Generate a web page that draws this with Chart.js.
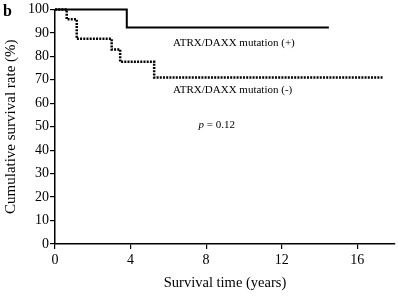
<!DOCTYPE html>
<html>
<head>
<meta charset="utf-8">
<script src="https://cdn.jsdelivr.net/npm/chart.js@4/dist/chart.umd.min.js"></script>
<style>
  html, body { margin: 0; padding: 0; background: #fff; }
  #wrap { width: 398px; height: 296px; position: relative; }
</style>
</head>
<body>
<div id="wrap"><canvas id="km"></canvas></div>
<script>
// Kaplan-Meier steps (time in years, survival %)
const posTimes = [0, 3.8, 14.5];
const posSurv = [100, 92.3, 92.3];
const negTimes = [0, 0.62, 1.15, 3.0, 3.45, 5.25, 17.4];
const negSurv = [100, 95.8, 87.5, 82.9, 77.7, 71.0, 71.0];

const xTicks = [0, 4, 8, 12, 16];
const yTicks = [0, 10, 20, 30, 40, 50, 60, 70, 80, 90, 100];

const SERIF = '"Liberation Serif", "Times New Roman", serif';

function toPoints(xs, ys) {
    return xs.map((x, i) => ({ x: x, y: ys[i] }));
}

// text labels placed in data coordinates
const notes = [
    { text: 'ATRX/DAXX mutation (+)', x: 6.25, y: 85.5 },
    { text: 'ATRX/DAXX mutation (-)', x: 6.25, y: 65.4 },
];

const notePlugin = {
    id: 'notes',
    afterDraw(chart) {
        const ctx = chart.ctx;
        const xs = chart.scales.x, ys = chart.scales.y;
        ctx.save();
        ctx.fillStyle = '#000';
        ctx.textBaseline = 'middle';
        ctx.font = '11px ' + SERIF;
        notes.forEach(n => {
            ctx.fillText(n.text, xs.getPixelForValue(n.x), ys.getPixelForValue(n.y));
        });
        // p value
        let px = xs.getPixelForValue(7.6), py = ys.getPixelForValue(50.7);
        ctx.font = 'italic 11px ' + SERIF;
        ctx.fillText('p', px, py);
        let w = ctx.measureText('p ').width;
        ctx.font = '11px ' + SERIF;
        ctx.fillText('= 0.12', px + w, py);
        // panel letter
        ctx.font = 'bold 16px ' + SERIF;
        ctx.textBaseline = 'top';
        ctx.fillText('b', 3, 4);
        ctx.restore();
    }
};

new Chart(document.getElementById('km'), {
    type: 'line',
    data: {
        datasets: [{
            data: toPoints(posTimes, posSurv),
            borderColor: '#000',
            borderWidth: 2,
            stepped: true,
            pointRadius: 0,
            fill: false,
            clip: false
        }, {
            data: toPoints(negTimes, negSurv),
            borderColor: '#000',
            borderWidth: 2.5,
            borderDash: [2, 1.2],
            stepped: true,
            pointRadius: 0,
            fill: false,
            clip: false
        }]
    },
    options: {
        responsive: true,
        maintainAspectRatio: false,
        animation: false,
        layout: { padding: { top: 7, right: 3, left: 2, bottom: 0 } },
        plugins: { legend: { display: false }, tooltip: { enabled: false } },
        scales: {
            x: {
                type: 'linear',
                min: 0,
                max: 18,
                afterBuildTicks: s => { s.ticks = xTicks.map(v => ({ value: v })); },
                afterFit: s => { s.height = 52; },
                grid: { drawOnChartArea: false, drawTicks: true, tickLength: 5, color: '#000', lineWidth: 1.2 },
                border: { color: '#000', width: 1.5 },
                ticks: { color: '#000', font: { family: SERIF, size: 14 }, padding: 3, maxRotation: 0 },
                title: { display: true, text: 'Survival time (years)', color: '#000', font: { family: SERIF, size: 14.5 }, padding: { top: 10 } }
            },
            y: {
                min: 0,
                max: 100,
                afterBuildTicks: s => { s.ticks = yTicks.map(v => ({ value: v })); },
                afterFit: s => { s.width = 53; },
                grid: { drawOnChartArea: false, drawTicks: true, tickLength: 5, color: '#000', lineWidth: 1.2 },
                border: { color: '#000', width: 1.5 },
                ticks: { color: '#000', font: { family: SERIF, size: 14 }, padding: 1 },
                title: { display: true, text: 'Cumulative survival rate (%)', color: '#000', font: { family: SERIF, size: 15 }, padding: 0 }
            }
        }
    },
    plugins: [notePlugin]
});
</script>
</body>
</html>
